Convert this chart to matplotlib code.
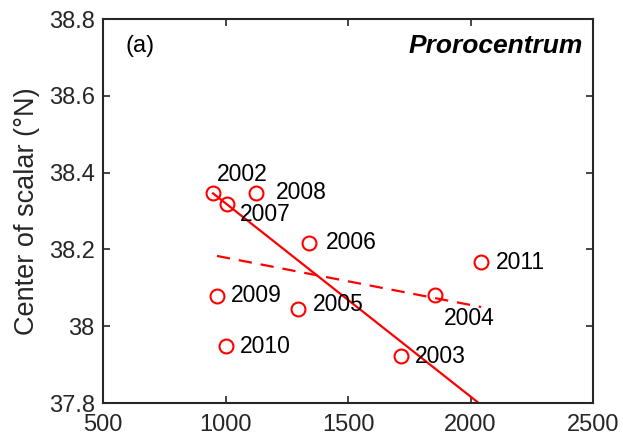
import matplotlib
matplotlib.use("Agg")
import matplotlib.pyplot as plt

# data
years = ['2002', '2007', '2008', '2006', '2011', '2004', '2009', '2005', '2010', '2003']
area = [949, 1006, 1124, 1341, 2043, 1855, 965, 1296, 1002, 1716]
center = [38.347, 38.318, 38.347, 38.217, 38.167, 38.081, 38.079, 38.045, 37.948, 37.922]

# fitted lines (end points)
fit_x = [949, 2043]
fit_y = [38.346, 37.795]
dash_x = [965, 2043]
dash_y = [38.183, 38.050]

# label offsets in pixels (dx, dy)
offsets = [(4, 18), (13, -10), (20, 0), (17, 0), (15, 0), (9, -23), (14, 0), (15, 4), (14, 0), (14, 0)]

plt.rcParams['font.family'] = ['Liberation Sans', 'DejaVu Sans']
axcol = '#262626'

fig = plt.figure(figsize=(6.23, 4.37), dpi=100)
ax = fig.add_axes([0.1653, 0.0778, 0.7867, 0.8787])

ax.plot(fit_x, fit_y, '-', color='red', linewidth=1.6)
ax.plot(dash_x, dash_y, '--', color='red', linewidth=1.6, dashes=(6, 4))
ax.plot(area, center, 'o', markerfacecolor='none', markeredgecolor='red',
        markersize=10, markeredgewidth=1.5, linestyle='none')

for yr, x, y, (dx, dy) in zip(years, area, center, offsets):
    ax.annotate(yr, (x, y), xytext=(dx, dy), textcoords='offset pixels',
                fontsize=16.5, ha='left', va='center')

ax.set_xlim(500, 2500)
ax.set_ylim(37.8, 38.8)
ax.set_xticks([500, 1000, 1500, 2000, 2500])
ax.set_yticks([37.8, 38.0, 38.2, 38.4, 38.6, 38.8])
ax.set_yticklabels(['37.8', '38', '38.2', '38.4', '38.6', '38.8'])
ax.tick_params(direction='in', top=True, right=True, labelsize=17, length=5, width=1.2,
               color=axcol, labelcolor=axcol)
ax.tick_params(axis='x', pad=8)
ax.tick_params(axis='y', pad=6)
for s in ax.spines.values():
    s.set_linewidth(1.5)
    s.set_color(axcol)
ax.set_ylabel('Center of scalar (°N)', fontsize=19.5, labelpad=6, color=axcol)

ax.text(0.045, 0.93, '(a)', transform=ax.transAxes, fontsize=17, ha='left', va='center')
ax.text(0.98, 0.93, 'Prorocentrum', transform=ax.transAxes, fontsize=19,
        fontweight='bold', fontstyle='italic', ha='right', va='center')

fig.savefig('out.png', dpi=100)
